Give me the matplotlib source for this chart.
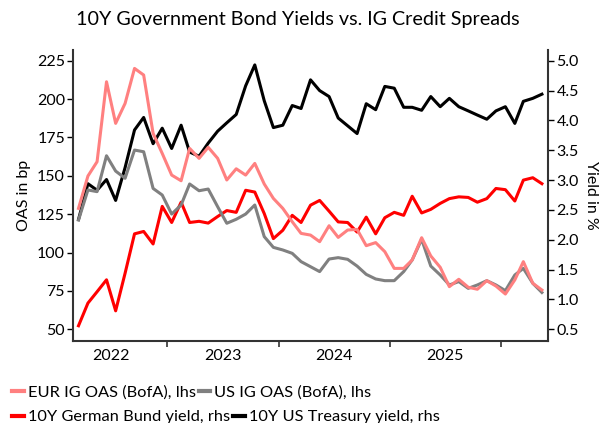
import matplotlib
matplotlib.use("Agg")
import matplotlib.pyplot as plt
import matplotlib.dates as mdates
from matplotlib.lines import Line2D
import pandas as pd

plt.rcParams['font.family'] = ['Lato', 'DejaVu Sans']

# monthly observations, mid-month, Mar 2022 - May 2026
dates = pd.date_range('2022-03-01', periods=51, freq='MS') + pd.Timedelta(days=14)

# OAS in bp (left axis)
eur_ig_oas = [128.8, 149.9, 159.2, 211.3, 184.2, 197.2, 220.0, 215.7, 177.7, 164.6,
              150.5, 146.8, 167.9, 161.4, 168.6, 161.4, 147.3, 154.6, 150.5, 158.1,
              144.7, 135.3, 128.8, 120.1, 112.5, 111.4, 107.1, 117.5, 109.9, 114.7,
              115.1, 104.5, 106.5, 100.6, 89.7, 89.7, 95.2, 109.7, 97.8, 90.4,
              77.8, 82.6, 77.4, 76.1, 81.7, 78.2, 73.0, 82.2, 94.1, 80.0, 75.6]
us_ig_oas = [121.2, 140.8, 139.7, 163.1, 153.1, 148.4, 166.8, 165.7, 141.8, 137.5,
             125.1, 131.0, 144.7, 140.3, 141.4, 129.9, 119.1, 121.7, 125.1, 131.0,
             110.4, 103.4, 101.7, 99.5, 94.1, 90.8, 87.6, 95.8, 96.7, 95.6,
             91.2, 85.8, 82.8, 81.7, 81.7, 87.6, 95.2, 108.6, 91.2, 85.4,
             78.9, 81.1, 76.7, 78.9, 81.7, 78.9, 75.2, 85.4, 89.7, 80.0, 74.0]

# 10Y yields in % (right axis)
bund_10y = [0.56, 0.94, 1.13, 1.33, 0.81, 1.44, 2.10, 2.14, 1.93, 2.56,
            2.29, 2.63, 2.29, 2.31, 2.28, 2.39, 2.49, 2.46, 2.83, 2.80,
            2.44, 2.02, 2.16, 2.41, 2.29, 2.58, 2.66, 2.48, 2.30, 2.29,
            2.13, 2.38, 2.10, 2.37, 2.46, 2.41, 2.73, 2.45, 2.51, 2.61,
            2.69, 2.72, 2.71, 2.63, 2.69, 2.86, 2.84, 2.65, 3.00, 3.04, 2.94]
ust_10y = [2.34, 2.94, 2.83, 3.01, 2.66, 3.21, 3.84, 4.05, 3.61, 3.87,
           3.53, 3.92, 3.47, 3.40, 3.62, 3.82, 3.96, 4.10, 4.58, 4.93,
           4.33, 3.88, 3.92, 4.25, 4.20, 4.68, 4.50, 4.40, 4.04, 3.91,
           3.78, 4.28, 4.18, 4.57, 4.54, 4.22, 4.22, 4.17, 4.40, 4.23,
           4.37, 4.23, 4.16, 4.09, 4.02, 4.16, 4.23, 3.95, 4.32, 4.37, 4.44]

left_ticks = [50, 75, 100, 125, 150, 175, 200, 225]
right_ticks = [0.5, 1.0, 1.5, 2.0, 2.5, 3.0, 3.5, 4.0, 4.5, 5.0]

c_eur = '#ff8080'
c_us = '#808080'
c_bund = '#ff0000'
c_ust = '#000000'
lw = 2.2

fig = plt.figure(figsize=(6.03, 4.23), dpi=100)
ax = fig.add_axes([0.1216, 0.1939, 0.9088 - 0.1216, 0.8818 - 0.1939])
ax2 = ax.twinx()

ax.plot(dates, us_ig_oas, color=c_us, lw=lw, zorder=2)
ax.plot(dates, eur_ig_oas, color=c_eur, lw=lw, zorder=3)
ax2.plot(dates, bund_10y, color=c_bund, lw=lw)
ax2.plot(dates, ust_10y, color=c_ust, lw=lw)

# put the OAS lines above the yield lines
ax.set_zorder(2)
ax.patch.set_visible(False)

ax.set_ylim(42.4, 232.0)
ax2.set_ylim(0.305, 5.18)
ax.set_yticks(left_ticks)
ax2.set_yticks(right_ticks)
ax2.set_yticklabels([f'{t:.1f}' for t in right_ticks])

ax.set_xlim(pd.Timestamp('2022-02-26'), pd.Timestamp('2026-06-04'))
ax.xaxis.set_major_locator(mdates.YearLocator(month=1, day=1))
ax.xaxis.set_major_formatter(plt.NullFormatter())
ax.xaxis.set_minor_locator(mdates.YearLocator(month=7, day=1))
ax.xaxis.set_minor_formatter(mdates.DateFormatter('%Y'))
ax.tick_params(axis='x', which='minor', length=0, labelsize=11.5, pad=6)
ax.tick_params(axis='x', which='major', length=4, width=1.2, color='#333333')

for a in (ax, ax2):
    a.spines['top'].set_visible(False)
    for s in ('left', 'right', 'bottom'):
        a.spines[s].set_linewidth(1.5)
        a.spines[s].set_color('#333333')
    a.tick_params(axis='y', labelsize=11.5, length=4, width=1.0, pad=2)
ax2.spines['left'].set_visible(False)
ax2.spines['bottom'].set_visible(False)
ax.spines['right'].set_visible(False)

ax.set_ylabel('OAS in bp', fontsize=11.5, labelpad=4)
ax2.set_ylabel('Yield in %', fontsize=11.5, rotation=270, labelpad=14)

fig.suptitle('10Y Government Bond Yields vs. IG Credit Spreads', fontsize=14.2, y=0.975, x=0.494)

row1 = [Line2D([], [], color=c_eur, lw=3), Line2D([], [], color=c_us, lw=3)]
row2 = [Line2D([], [], color=c_bund, lw=3), Line2D([], [], color=c_ust, lw=3)]
leg_kw = dict(ncol=2, frameon=False, fontsize=11.8, handlelength=0.7,
              handletextpad=0.25, columnspacing=0.2, borderaxespad=0, borderpad=0)
leg1 = fig.legend(row1, ['EUR IG OAS (BofA), lhs', 'US IG OAS (BofA), lhs'],
                  loc='upper left', bbox_to_anchor=(0.02, 0.09), **leg_kw)
leg2 = fig.legend(row2, ['10Y German Bund yield, rhs', '10Y US Treasury yield, rhs'],
                  loc='upper left', bbox_to_anchor=(0.02, 0.031), **leg_kw)

fig.savefig('out.png', dpi=100)
